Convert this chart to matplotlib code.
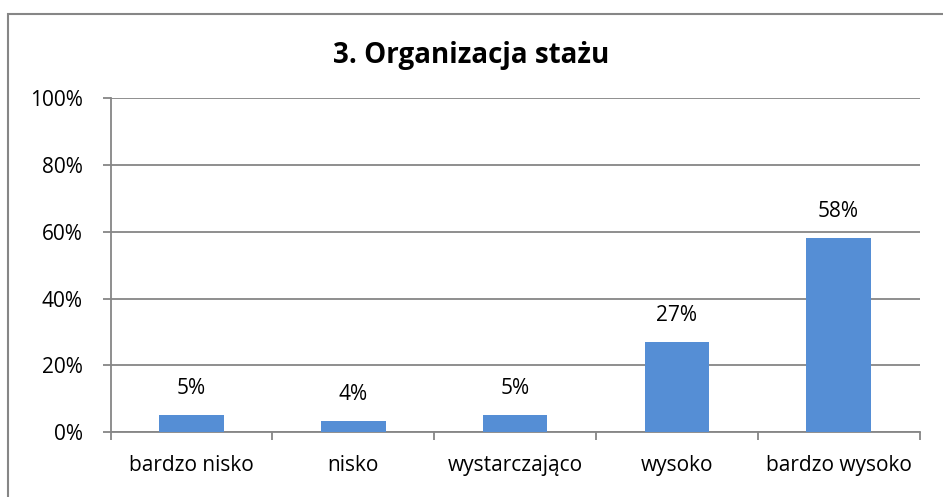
import matplotlib.pyplot as plt
import matplotlib.patches as patches
import numpy as np

# Data
categories = ["bardzo nisko", "nisko", "wystarczająco", "wysoko", "bardzo wysoko"]
values = [5.3, 3.5, 5.3, 27.1, 58.2]
value_labels = ["5%", "4%", "5%", "27%", "58%"]
y_ticks = [0, 20, 40, 60, 80, 100]
y_tick_labels = ["0%", "20%", "40%", "60%", "80%", "100%"]
title = "3. Organizacja stażu"

plt.rcParams['font.family'] = ['Open Sans', 'DejaVu Sans']
grid_col = '#868686'
bar_col = '#558ED5'
fs = 15

fig = plt.figure(figsize=(9.43, 4.97), dpi=100)
ax = fig.add_axes([110.7/943, 1 - 432.3/497, (919.5 - 110.7)/943, (432.3 - 98)/497])

x = np.arange(len(categories))
bars = ax.bar(x, values, width=0.4, color=bar_col, zorder=3)

for i in range(len(values)):
  ax.annotate(value_labels[i], (x[i], values[i]), xytext=(0, 11), textcoords='offset points',
              ha='center', va='bottom', fontsize=fs, color='black')

ax.set_xlim(-0.5, len(categories) - 0.5)
ax.set_ylim(0, 100)
ax.set_yticks(y_ticks)
ax.set_yticklabels(y_tick_labels, fontsize=fs)
ax.set_xticks(x)
ax.set_xticklabels(categories, fontsize=fs)
ax.tick_params(axis='x', length=0, pad=16)
# boundary ticks between categories
ax.set_xticks(np.arange(-0.5, len(categories)), minor=True)
ax.tick_params(axis='x', which='minor', length=6, width=1.3, color=grid_col)
ax.tick_params(axis='y', length=6, width=1.3, color=grid_col, pad=14)

ax.yaxis.grid(True, color=grid_col, linewidth=1.3, zorder=0)
for side in ['top', 'right']:
  ax.spines[side].set_visible(False)
for side in ['left', 'bottom']:
  ax.spines[side].set_color(grid_col)
  ax.spines[side].set_linewidth(1.3)

fig.text(0.5, 1 - 55/497, title, ha='center', va='center', fontsize=20, fontweight='bold')

# outer chart border (only top and left visible in the crop)
border = patches.Rectangle((8.3/943, -0.1), 1.0, 1 - 13.7/497 + 0.1, transform=fig.transFigure,
                           fill=False, edgecolor=grid_col, linewidth=1.5)
fig.add_artist(border)

fig.savefig("out.png", dpi=100)
